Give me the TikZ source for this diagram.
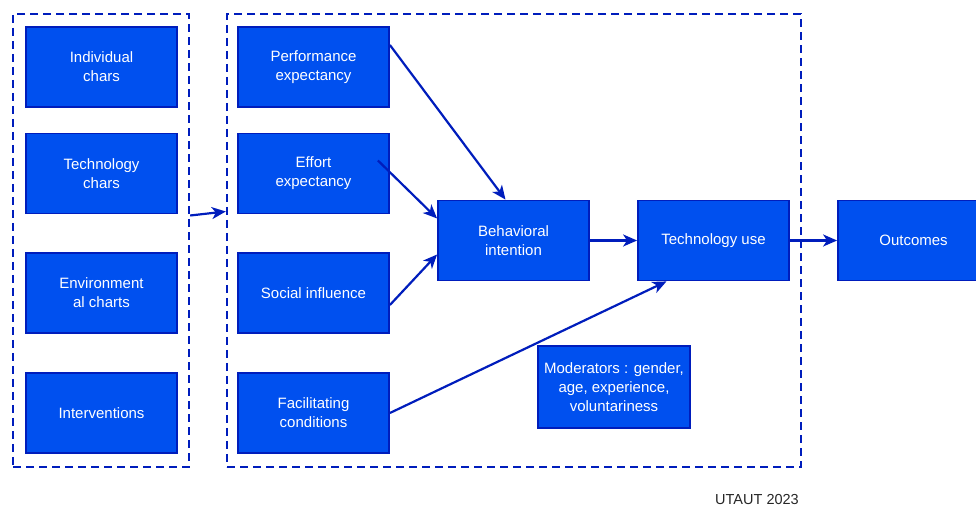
\documentclass[tikz,border=0pt]{standalone}
\usepackage{fontspec}
\setmainfont{Liberation Sans}
\usepackage{xcolor}
\usepackage{tikz}
\usetikzlibrary{arrows.meta,positioning,calc}

\definecolor{boxfill}{HTML}{0050EF}
\definecolor{boxline}{HTML}{001DBC}

\tikzset{
  factor/.style={draw=boxline,fill=boxfill,line width=1.8pt,text=white,
    minimum width=151,minimum height=80,align=center,inner sep=2pt,
    font=\fontsize{15}{19}\selectfont},
  group/.style={draw=boxline,line width=2.4pt,dash pattern=on 8pt off 5pt,
    minimum width=#1,minimum height=453,inner sep=0pt},
  link/.style={draw=boxline,line width=2.2pt,-{Stealth[length=14pt,width=12pt,inset=4pt]}}
}

\begin{document}
\begin{tikzpicture}[x=1pt,y=1pt]
	\useasboundingbox (0,0) rectangle (976,508);
	\node[group=176] (lgrp) at (101,267.5) {};
	\node[group=574] (rgrp) at (514,267.5) {};

	\node[factor] (indiv) at (101.5,441) {Individual\\chars};
	\node[factor] (techc) at (101.5,334.5) {Technology\\chars};
	\node[factor] (envc) at (101.5,215) {Environment\\al charts};
	\node[factor] (interv) at (101.5,95) {Interventions};

	\node[factor] (perf) at (313.5,441) {Performance\\expectancy};
	\node[factor] (effort) at (313.5,334.5) {Effort\\expectancy};
	\node[factor] (social) at (313.5,215) {Social influence};
	\node[factor] (facil) at (313.5,95) {Facilitating\\conditions};

	\node[factor] (behav) at (513.5,267.5) {Behavioral\\intention};
	\node[factor] (techuse) at (713.5,267.5) {Technology use};
	\node[factor] (outc) at (913.5,267.5) {Outcomes};
	\node[factor,minimum width=152,minimum height=82] (moder) at (614,121) {Moderators : gender,\\age, experience,\\voluntariness};

	\node[font=\fontsize{14.5}{16}\selectfont,text=black!85] (year) at (757,8) {UTAUT 2023};

	\draw[link] ([yshift=22]perf.east) -- ([xshift=-8]behav.north);
	\draw[link] ([yshift=25]lgrp.east) -- ([yshift=29]rgrp.west);
	\draw[link] ([xshift=-12,yshift=13]effort.east) -- ([yshift=22]behav.west);
	\draw[link] ([yshift=-12]social.east) -- ([yshift=-14]behav.west);
	\draw[link] (facil.east) -- ([xshift=-47]techuse.south);
	\draw[link] (behav.east) -- (techuse.west);
	\draw[link] (techuse.east) -- (outc.west);
\end{tikzpicture}
\end{document}
